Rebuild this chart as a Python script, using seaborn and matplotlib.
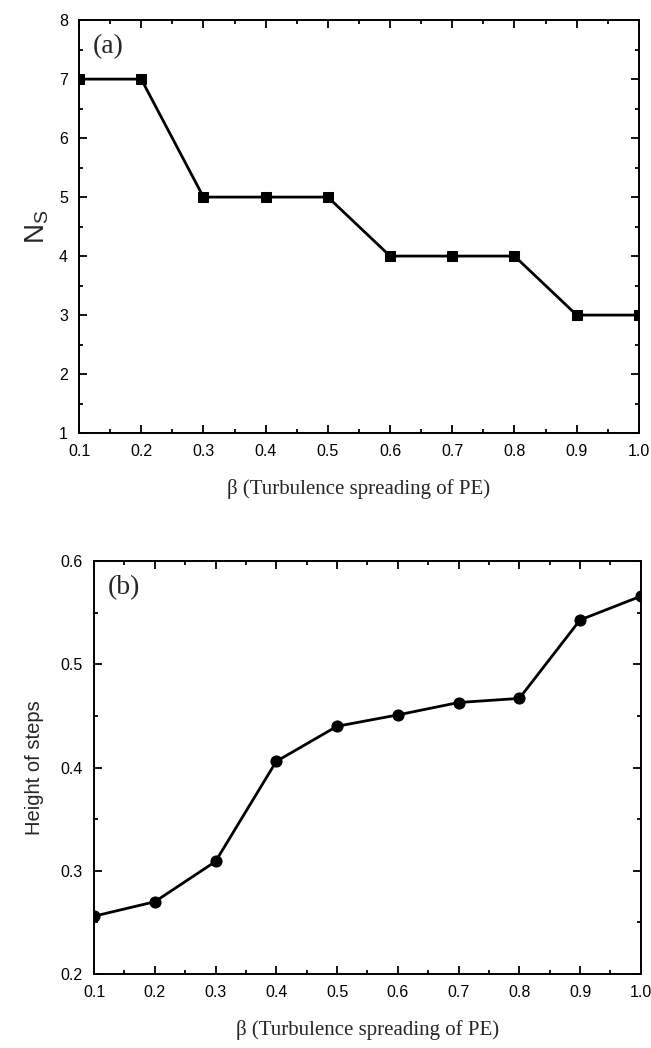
import numpy as np
import pandas as pd
import seaborn as sns
from matplotlib import pyplot as plt, ticker

# data
beta = [0.1, 0.2, 0.3, 0.4, 0.5, 0.6, 0.7, 0.8, 0.9, 1.0]
n_steps = [7, 7, 5, 5, 5, 4, 4, 4, 3, 3]
step_height = [0.256, 0.270, 0.309, 0.406, 0.440, 0.451, 0.463, 0.467, 0.543, 0.566]

sns.set_style("ticks")
plt.rcParams['font.family'] = ['Liberation Sans', 'DejaVu Sans']

fig = plt.figure(figsize=(6.51, 10.48), dpi=100)
ax_a = fig.add_axes([0.1214, 0.5868, 0.860, 0.394])
ax_b = fig.add_axes([0.1444, 0.0706, 0.840, 0.394])

df = pd.DataFrame({"beta": beta, "ns": n_steps, "h": step_height})


def style_axes(ax, ylim, ymajor, yminor, ylabel, tag, ylabel_fs, ylabel_pad):
    ax.set_xlim(0.1, 1.0)
    ax.set_ylim(*ylim)
    ax.xaxis.set_major_locator(ticker.MultipleLocator(0.1))
    ax.xaxis.set_minor_locator(ticker.MultipleLocator(0.05))
    ax.yaxis.set_major_locator(ticker.MultipleLocator(ymajor))
    ax.yaxis.set_minor_locator(ticker.MultipleLocator(yminor))
    ax.tick_params(which='both', direction='in', top=True, right=True, width=1.3, colors='black')
    ax.tick_params(which='major', length=5.5, labelsize=11.5, pad=8)
    ax.tick_params(which='minor', length=3)
    for s in ax.spines.values():
        s.set_visible(True)
        s.set_linewidth(1.4)
        s.set_color('black')
    ax.set_xlabel("β (Turbulence spreading of PE)", family=['Liberation Serif', 'DejaVu Serif'],
                  fontsize=15, labelpad=14)
    ax.set_ylabel(ylabel, fontsize=ylabel_fs, labelpad=ylabel_pad)
    ax.text(0.025, 0.965, tag, transform=ax.transAxes, va='top', ha='left',
            family=['Liberation Serif', 'DejaVu Serif'], fontsize=20)


sns.lineplot(data=df, x="beta", y="ns", ax=ax_a, color='black', linewidth=2,
             marker='s', markersize=7, markeredgecolor='black')
ax_a.yaxis.set_major_formatter(ticker.FormatStrFormatter('%d'))
style_axes(ax_a, (1, 8), 1, 0.5, r"$\mathregular{N_S}$", "(a)", 20, 6)

sns.lineplot(data=df, x="beta", y="h", ax=ax_b, color='black', linewidth=2,
             marker='o', markersize=8, markeredgecolor='black')
ax_b.yaxis.set_major_formatter(ticker.FormatStrFormatter('%.1f'))
style_axes(ax_b, (0.2, 0.6), 0.1, 0.05, "Height of steps", "(b)", 14.5, 12)

fig.savefig("out.png", dpi=100)
